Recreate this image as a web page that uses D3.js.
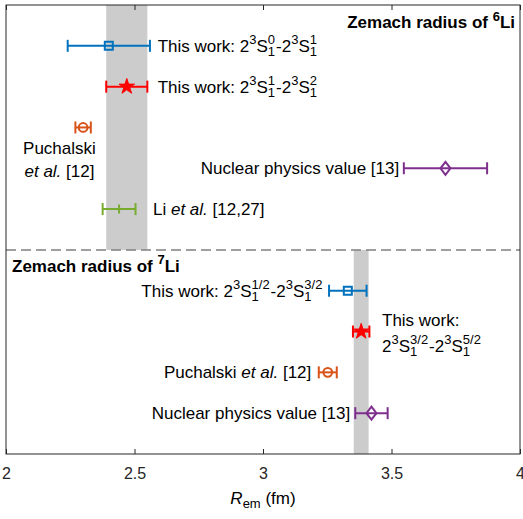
<!DOCTYPE html>
<html>
<head>
<meta charset="utf-8">
<script src="https://cdn.jsdelivr.net/npm/d3@7"></script>
<style>
	html, body { margin: 0; padding: 0; background: #fff; }
	svg { display: block; font-family: "Liberation Sans", Arial, sans-serif; }
	svg text { white-space: pre; }
</style>
</head>
<body>
<div id="chart"></div>
<script>
// 6Li: rows from top to bottom
var li6Sources = ['This work 0-1', 'This work 1-2', 'Puchalski', 'Nuclear physics', 'Li et al.'];
var li6Values = [2.40, 2.47, 2.30, 3.71, 2.44];
var li6Errors = [0.16, 0.08, 0.03, 0.162, 0.064];
var li6Band = [2.39, 2.55];

// 7Li: rows from top to bottom
var li7Sources = ['This work 1/2-3/2', 'This work 3/2-5/2', 'Puchalski', 'Nuclear physics'];
var li7Values = [3.33, 3.382, 3.252, 3.422];
var li7Errors = [0.073, 0.032, 0.035, 0.063];
var li7Band = [3.353, 3.411];

var xTicks = [2, 2.5, 3, 3.5, 4];
var xTickLabels = ['2', '2.5', '3', '3.5', '4'];

var chart = {

	settings: {
		width: 523,
		height: 519,
		fontSize: 17,
		scriptSize: 13,
		axisColor: '#262626'
	},

	// marker style per source, same order as the rows above
	styles: [
		{ color: '#0072BD', marker: 'square' },
		{ color: '#FF0000', marker: 'star' },
		{ color: '#D95319', marker: 'circle' },
		{ color: '#7E2F8E', marker: 'diamond' },
		{ color: '#77AC30', marker: 'plus' }
	],

	init: function () {
		this.addChart();
	},

	// split a small TeX-like string into plain / italic / sup / sub pieces
	parseTex: function (s) {
		var out = [], i = 0, buf = '', italic = false;
		function flush() {
			if (buf) { out.push({ t: buf, k: italic ? 'it' : 'n' }); buf = ''; }
		}
		while (i < s.length) {
			var c = s[i];
			if (c === '^' || c === '_') {
				flush();
				i++;
				var g;
				if (s[i] === '{') {
					var j = s.indexOf('}', i);
					g = s.slice(i + 1, j);
					i = j + 1;
				} else {
					g = s[i];
					i++;
				}
				out.push({ t: g, k: c === '^' ? 'sup' : 'sub' });
			} else if (c === '*') {
				flush();
				italic = !italic;
				i++;
			} else {
				buf += c;
				i++;
			}
		}
		flush();
		return out;
	},

	drawTex: function (parent, str, x, y, anchor, weight) {
		var self = this;
		var g = parent.append('g');
		var cx = 0, prev = null;
		this.parseTex(str).forEach(function (s) {
			var isScript = s.k === 'sup' || s.k === 'sub';
			var t = g.append('text')
				.text(s.t)
				.attr('xml:space', 'preserve')
				.attr('fill', '#000')
				.attr('font-size', isScript ? self.settings.scriptSize : self.settings.fontSize)
				.attr('font-style', s.k === 'it' ? 'italic' : 'normal')
				.attr('font-weight', weight || 'normal')
				.attr('y', s.k === 'sup' ? -7.5 : (s.k === 'sub' ? 4 : 0));
			var w = t.node().getComputedTextLength();
			if (isScript && prev && prev.k !== s.k) {
				// stack sub and sup on top of each other
				t.attr('x', prev.x);
				cx = prev.x + Math.max(prev.w, w) + 1;
				prev = null;
			} else {
				t.attr('x', cx);
				prev = isScript ? { k: s.k, x: cx, w: w } : null;
				cx += w;
			}
		});
		var shift = anchor === 'end' ? -cx : (anchor === 'middle' ? -cx / 2 : 0);
		g.attr('transform', 'translate(' + (x + shift) + ',' + y + ')');
		return g;
	},

	addChart: function () {

		let self = this;
		var s = this.settings;

		var padding = { top: 5, right: 3, bottom: 65, left: 6 };
		var width = s.width - padding.left - padding.right;
		var height = s.height - padding.top - padding.bottom;

		var x = d3.scaleLinear().domain([2, 4]).range([0, width]);
		// 11 row slots: 6Li rows 1-5, separator at 6, 7Li rows 7-10
		var y = d3.scaleLinear().domain([0, 11]).range([0, height]);
		var sepRow = 6;

		var svg = d3.select('#chart').append('svg')
			.attr('width', s.width)
			.attr('height', s.height)
			.append('g')
			.attr('transform', 'translate(' + padding.left + ',' + padding.top + ')');

		var li6 = li6Values.map(function (v, i) {
			return { source: li6Sources[i], value: v, err: li6Errors[i], row: i + 1, style: self.styles[i] };
		});
		var li7 = li7Values.map(function (v, i) {
			return { source: li7Sources[i], value: v, err: li7Errors[i], row: sepRow + 1 + i, style: self.styles[i] };
		});
		var points = li6.concat(li7);

		// shaded bands
		svg.append('rect')
			.attr('x', x(li6Band[0]))
			.attr('width', x(li6Band[1]) - x(li6Band[0]))
			.attr('y', y(0))
			.attr('height', y(sepRow) - y(0))
			.attr('fill', '#cccccc');
		svg.append('rect')
			.attr('x', x(li7Band[0]))
			.attr('width', x(li7Band[1]) - x(li7Band[0]))
			.attr('y', y(sepRow))
			.attr('height', y(11) - y(sepRow))
			.attr('fill', '#cccccc');

		// separator
		svg.append('line')
			.attr('x1', 0).attr('x2', width)
			.attr('y1', y(sepRow)).attr('y2', y(sepRow))
			.attr('stroke', '#7f7f7f')
			.attr('stroke-width', 1.5)
			.attr('stroke-dasharray', '10,5');

		// error bars
		var cap = 6;
		var bars = svg.selectAll('.bar')
			.data(points)
			.enter().append('g')
			.attr('class', 'bar')
			.attr('stroke', function (d) { return d.style.color; })
			.attr('stroke-width', 2)
			.attr('fill', 'none');
		bars.append('line')
			.attr('x1', function (d) { return x(d.value - d.err); })
			.attr('x2', function (d) { return x(d.value + d.err); })
			.attr('y1', function (d) { return y(d.row); })
			.attr('y2', function (d) { return y(d.row); });
		bars.append('line')
			.attr('x1', function (d) { return x(d.value - d.err); })
			.attr('x2', function (d) { return x(d.value - d.err); })
			.attr('y1', function (d) { return y(d.row) - cap; })
			.attr('y2', function (d) { return y(d.row) + cap; });
		bars.append('line')
			.attr('x1', function (d) { return x(d.value + d.err); })
			.attr('x2', function (d) { return x(d.value + d.err); })
			.attr('y1', function (d) { return y(d.row) - cap; })
			.attr('y2', function (d) { return y(d.row) + cap; });

		// markers
		var markerPath = {
			square: 'M-4,-4H4V4H-4Z',
			diamond: 'M0,-6.5L5,0L0,6.5L-5,0Z',
			plus: 'M0,-4.5V4.5M-4.5,0H4.5',
			circle: d3.symbol(d3.symbolCircle, 60)(),
			star: d3.symbol(d3.symbolStar, 75)()
		};
		bars.append('path')
			.attr('transform', function (d) { return 'translate(' + x(d.value) + ',' + y(d.row) + ')'; })
			.attr('d', function (d) { return markerPath[d.style.marker]; })
			.attr('fill', function (d) { return d.style.marker === 'star' ? d.style.color : 'none'; })
			.attr('stroke-width', function (d) { return d.style.marker === 'star' ? 1 : 2; });

		// annotations
		var ann = svg.append('g');
		var baseOff = 6;
		this.drawTex(ann, 'Zemach radius of ^6Li', width - 5, 23, 'end', 'bold');
		this.drawTex(ann, 'This work: 2^3S_1^0-2^3S_1^1', x(2.59), y(1) + baseOff, 'start');
		this.drawTex(ann, 'This work: 2^3S_1^1-2^3S_1^2', x(2.59), y(2) + baseOff, 'start');
		this.drawTex(ann, 'Puchalski', x(2.208), y(3) + 27, 'middle');
		this.drawTex(ann, '*et al.* [12]', x(2.208), y(3) + 50, 'middle');
		this.drawTex(ann, 'Nuclear physics value [13]', x(3.53), y(4) + baseOff, 'end');
		this.drawTex(ann, 'Li *et al.* [12,27]', x(2.572), y(5) + baseOff, 'start');

		this.drawTex(ann, 'Zemach radius of ^7Li', 6, y(sepRow) + 22, 'start', 'bold');
		this.drawTex(ann, 'This work: 2^3S_1^{1/2}-2^3S_1^{3/2}', x(3.235), y(7) + baseOff, 'end');
		this.drawTex(ann, 'This work:', x(3.463), y(8) - 6, 'start');
		this.drawTex(ann, '2^3S_1^{3/2}-2^3S_1^{5/2}', x(3.463), y(8) + 20, 'start');
		this.drawTex(ann, 'Puchalski *et al.* [12]', x(3.188), y(9) + baseOff, 'end');
		this.drawTex(ann, 'Nuclear physics value [13]', x(3.339), y(10) + baseOff, 'end');

		// axes
		var xAxis = svg.append('g')
			.attr('transform', 'translate(0,' + height + ')')
			.call(d3.axisBottom(x)
				.tickValues(xTicks)
				.tickFormat(function (d, i) { return xTickLabels[i]; })
				.tickSizeInner(-5)
				.tickSizeOuter(0)
				.tickPadding(14));
		xAxis.select('.domain').remove();
		xAxis.selectAll('line').attr('stroke', s.axisColor);
		xAxis.selectAll('text')
			.attr('font-size', 16)
			.attr('font-family', '"Liberation Sans", Arial, sans-serif')
			.attr('fill', s.axisColor);

		var topAxis = svg.append('g')
			.call(d3.axisTop(x)
				.tickValues(xTicks)
				.tickFormat('')
				.tickSizeInner(-5)
				.tickSizeOuter(0));
		topAxis.select('.domain').remove();
		topAxis.selectAll('line').attr('stroke', s.axisColor);

		svg.append('rect')
			.attr('x', 0).attr('y', 0)
			.attr('width', width).attr('height', height)
			.attr('fill', 'none')
			.attr('stroke', s.axisColor)
			.attr('stroke-width', 1);

		// x-axis label
		this.drawTex(svg, '*R*_{em} (fm)', width / 2, height + 50, 'middle');
	}
};

chart.init();
</script>
</body>
</html>
